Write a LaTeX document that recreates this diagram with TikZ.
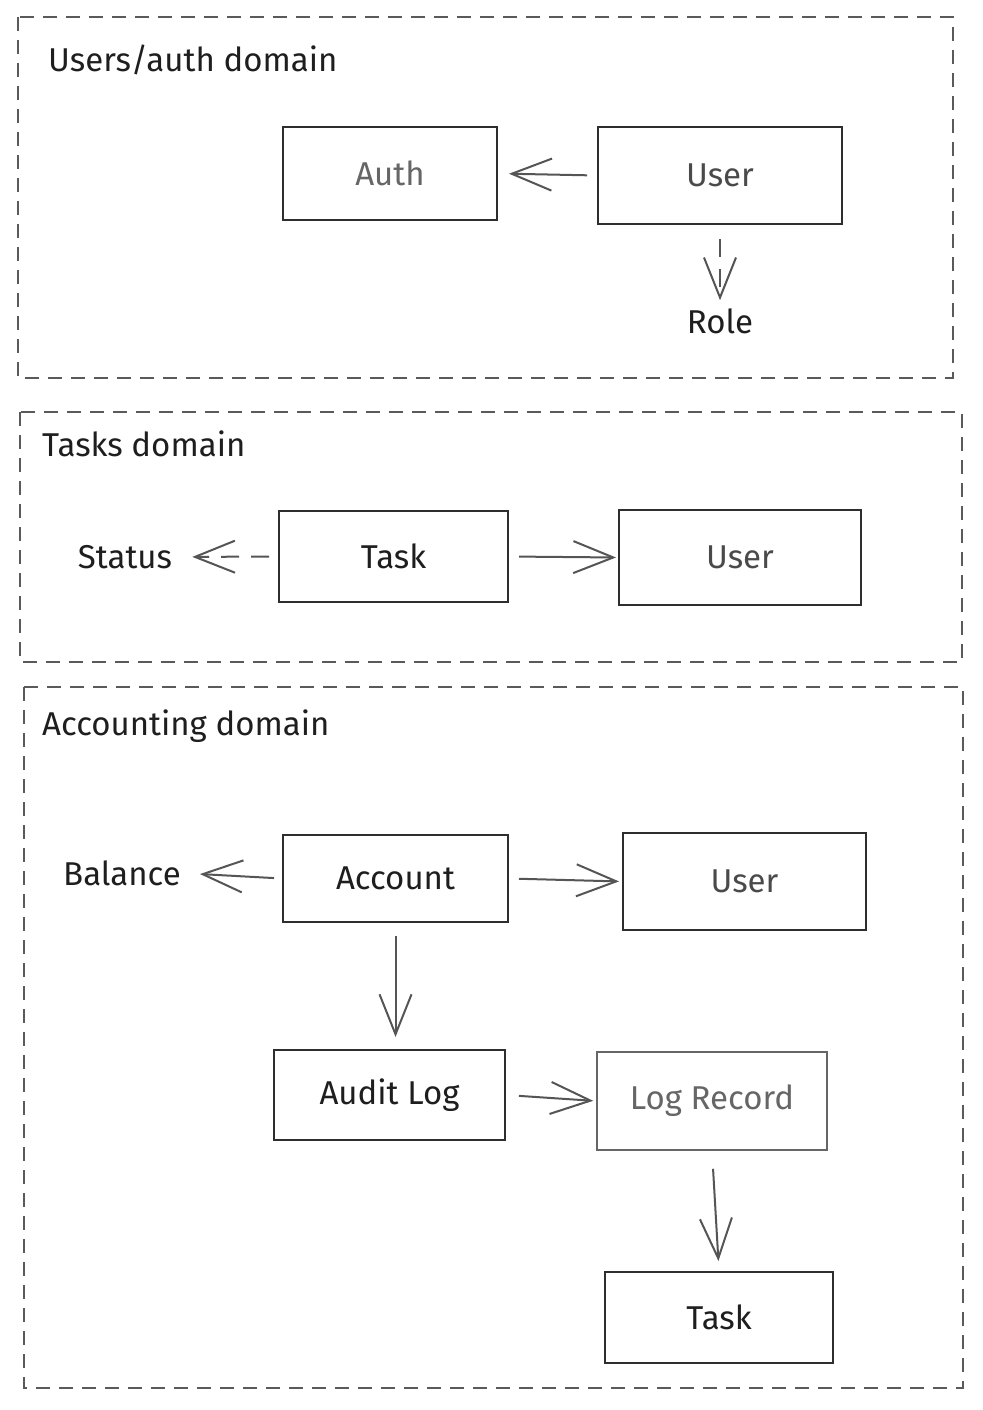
\documentclass[tikz,border=0pt]{standalone}
\usepackage{fontspec}
\setmainfont{Fira Sans}
\usetikzlibrary{arrows.meta}
\definecolor{ink}{HTML}{1E1E1E}
\definecolor{boxline}{HTML}{2E2E2E}
\definecolor{arrowgrey}{HTML}{555555}
\definecolor{framegrey}{HTML}{5A5A5A}
\definecolor{softtext}{HTML}{4A4A4A}
\definecolor{paletext}{HTML}{666666}
\tikzset{
  frame/.style={draw=framegrey, line width=2pt, dash pattern=on 14pt off 9pt},
  entity/.style={draw=boxline, line width=2pt, rectangle, inner sep=0pt, text=ink,
    font=\fontsize{33}{38}\selectfont},
  label/.style={inner sep=0pt, text=ink, font=\fontsize{33}{38}\selectfont},
  title/.style={inner sep=0pt, anchor=west, text=ink, font=\fontsize{33}{38}\selectfont},
  link/.style={draw=arrowgrey, line width=2pt, -{Straight Barb[length=40pt,width=32pt,line width=2pt]}},
  dlink/.style={link, dash pattern=on 18pt off 12pt}
}
\begin{document}
\begin{tikzpicture}[x=1pt,y=-1pt]
\useasboundingbox[fill=white] (0,0) rectangle (982,1410);

% frames
\draw[frame] (18,17) rectangle (953,378);
\draw[frame] (20,412) rectangle (962,662);
\draw[frame] (24,687) rectangle (963,1388);

\node[title] (t1) at (48,60) {Users/auth domain};
\node[title] (t2) at (42,444) {Tasks domain};
\node[title] (t3) at (42,726) {Accounting domain};

% users/auth
\node[entity, minimum width=214pt, minimum height=93pt, text=paletext] (auth) at (390,173.5) {Auth};
\node[entity, minimum width=244pt, minimum height=97pt, text=softtext] (user1) at (720,175.5) {User};
\node[label] (role) at (720,321) {Role};
\draw[link, shorten <=10pt, shorten >=11pt] (user1.west) -- (auth.east);
\draw[dlink, shorten <=14pt, shorten >=8pt] (user1.south) -- (role.north);

% tasks
\node[entity, minimum width=229pt, minimum height=91pt] (task1) at (393.5,556.5) {Task};
\node[entity, minimum width=242pt, minimum height=95pt, text=softtext] (user2) at (740,557.5) {User};
\node[label] (status) at (125,557) {Status};
\draw[link, shorten <=10pt, shorten >=2pt] (task1.east) -- (user2.west);
\draw[dlink, shorten <=9pt, shorten >=20pt] (task1.west) -- (status.east);

% accounting
\node[entity, minimum width=225pt, minimum height=87pt] (account) at (395.5,878.5) {Account};
\node[entity, minimum width=243pt, minimum height=97pt, text=softtext] (user3) at (744.5,881.5) {User};
\node[label] (balance) at (122,873) {Balance};
\node[entity, minimum width=231pt, minimum height=90pt] (audit) at (389.5,1095) {Audit Log};
\node[entity, draw=paletext, line width=1.6pt, minimum width=230pt, minimum height=98pt, text=paletext] (logrec) at (712,1101) {Log Record};
\node[entity, minimum width=228pt, minimum height=91pt] (task3) at (719,1317.5) {Task};

\draw[link, shorten <=8pt, shorten >=19pt] (account.west) -- (balance.east);
\draw[link, shorten <=10pt, shorten >=3pt] (account.east) -- (user3.west);
\draw[link, shorten <=13pt, shorten >=12pt] (account.south) -- (account.south |- audit.north);
\draw[link, shorten <=13pt, shorten >=3pt] (audit.east) -- (logrec.west);
\draw[link, shorten <=18pt, shorten >=10pt] (logrec.south) -- (task3.north);
\end{tikzpicture}
\end{document}
